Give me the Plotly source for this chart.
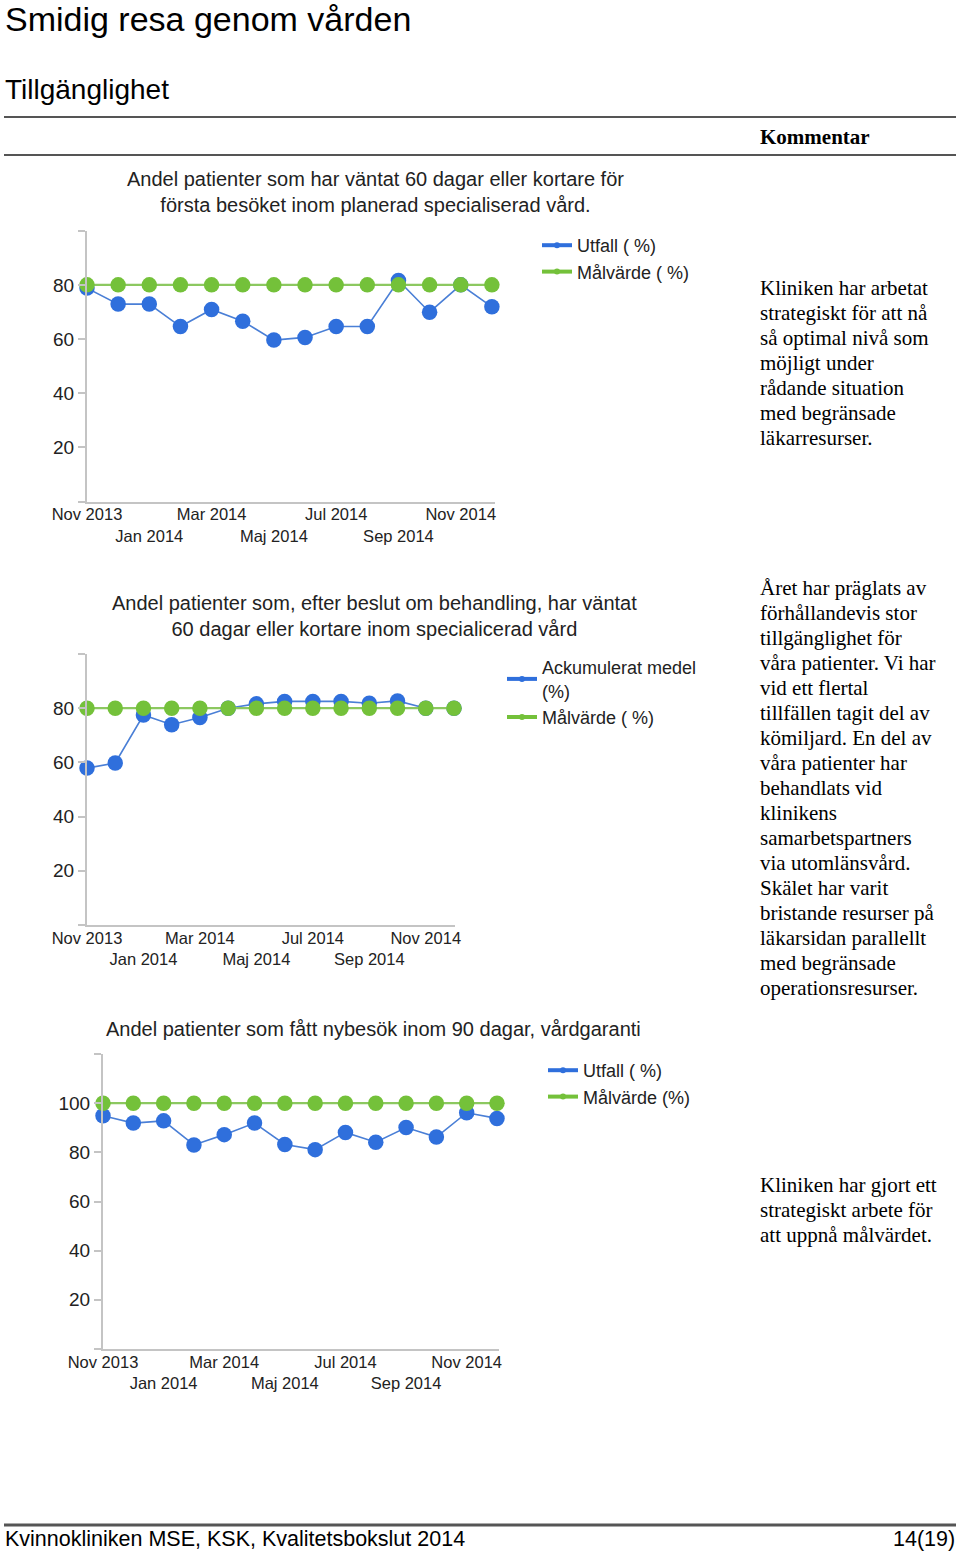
import plotly.graph_objects as go

# ---------------- data ----------------
months = ["Nov 2013", "Dec 2013", "Jan 2014", "Feb 2014", "Mar 2014", "Apr 2014",
          "Maj 2014", "Jun 2014", "Jul 2014", "Aug 2014", "Sep 2014", "Okt 2014",
          "Nov 2014", "Dec 2014"]
tick_months = ["Nov 2013", "Jan 2014", "Mar 2014", "Maj 2014", "Jul 2014", "Sep 2014", "Nov 2014"]

c1_title = "Andel patienter som har väntat 60 dagar eller kortare för<br>första besöket inom planerad specialiserad vård."
c1_utfall = [78.8, 72.9, 72.9, 64.6, 70.9, 66.6, 59.6, 60.6, 64.6, 64.6, 81.6, 69.9, 80.0, 71.9]
c1_mal = [80] * 14
c1_names = ["Utfall ( %)", "Målvärde ( %)"]

c2_title = "Andel patienter som, efter beslut om behandling, har väntat<br>60 dagar eller kortare inom specialicerad vård"
c2_ack = [57.9, 59.8, 77.5, 73.9, 76.6, 80.0, 81.6, 82.5, 82.5, 82.5, 81.8, 82.7, 80.0, 80.0]
c2_mal = [80] * 14
c2_names = ["Ackumulerat medel<br>(%)", "Målvärde ( %)"]

c3_title = "Andel patienter som fått nybesök inom 90 dagar, vårdgaranti"
c3_utfall = [94.9, 91.9, 92.8, 83.0, 87.2, 91.9, 83.2, 81.1, 88.1, 84.1, 90.1, 86.2, 96.1, 93.8]
c3_mal = [100] * 14
c3_names = ["Utfall ( %)", "Målvärde (%)"]

y_ticks_100 = [0, 20, 40, 60, 80, 100]
y_text_100 = ["", "20", "40", "60", "80", ""]
y_ticks_120 = [0, 20, 40, 60, 80, 100, 120]
y_text_120 = ["", "20", "40", "60", "80", "100", ""]

comment1 = ["Kliniken har arbetat", "strategiskt för att nå", "så optimal nivå som",
            "möjligt under", "rådande situation", "med begränsade", "läkarresurser."]
comment2 = ["Året har präglats av", "förhållandevis stor", "tillgänglighet för",
            "våra patienter. Vi har", "vid ett flertal", "tillfällen tagit del av",
            "kömiljard. En del av", "våra patienter har", "behandlats vid", "klinikens",
            "samarbetspartners", "via utomlänsvård.", "Skälet har varit",
            "bristande resurser på", "läkarsidan parallellt", "med begränsade",
            "operationsresurser."]
comment3 = ["Kliniken har gjort ett", "strategiskt arbete för", "att uppnå målvärdet."]

# ---------------- styling ----------------
W, H = 960, 1552
OFF = 0  # body margin removed via post_script
BLUE = "#2f6fdc"
BLUE_LINE = "#4a7fd6"
GREEN = "#74c13a"
GREEN_LINE = "#8cc860"
AX = "#c4c4c4"
TXT = "#222222"
SANS = "Liberation Sans, Arial, sans-serif"
SERIF = "Liberation Serif, Times New Roman, serif"


def px(x):
    return (x - OFF) / W


def py(y):
    return 1 - (y - OFF) / H


tick_text = [m if i % 2 == 0 else "<br>" + m for i, m in enumerate(tick_months)]

fig = go.Figure()

charts = [
    dict(ax="", blue=c1_utfall, mal=c1_mal, names=c1_names, title=c1_title,
         xd=[px(87), px(495)], yd=[py(501.5), py(230.7)], xr=[0, 13.1], yr=[0, 100],
         tv=y_ticks_100, tt=y_text_100, tx=375, ty=191.5, lx=537, ly=227, leg="legend"),
    dict(ax="2", blue=c2_ack, mal=c2_mal, names=c2_names, title=c2_title,
         xd=[px(87), px(455.4)], yd=[py(925), py(654)], xr=[0, 13.05], yr=[0, 100],
         tv=y_ticks_100, tt=y_text_100, tx=374.5, ty=615.5, lx=502, ly=649, leg="legend2"),
    dict(ax="3", blue=c3_utfall, mal=c3_mal, names=c3_names, title=c3_title,
         xd=[px(103), px(498.5)], yd=[py(1349), py(1054)], xr=[0, 13.05], yr=[0, 120],
         tv=y_ticks_120, tt=y_text_120, tx=373.5, ty=1029, lx=543, ly=1052, leg="legend3"),
]

layout_axes = {}
legends = {}
annotations = []
for c in charts:
    xa = "x" + c["ax"]
    ya = "y" + c["ax"]
    # data traces (blue under green)
    fig.add_trace(go.Scatter(x=months, y=c["blue"], xaxis=xa, yaxis=ya, mode="lines+markers",
                             line=dict(color=BLUE_LINE, width=1.6),
                             marker=dict(color=BLUE, size=15.5), showlegend=False,
                             cliponaxis=False))
    fig.add_trace(go.Scatter(x=months, y=c["mal"], xaxis=xa, yaxis=ya, mode="lines+markers",
                             line=dict(color=GREEN_LINE, width=2.2),
                             marker=dict(color=GREEN, size=15.5), showlegend=False,
                             cliponaxis=False))
    # legend entries
    for name, col in zip(c["names"], [BLUE, GREEN]):
        fig.add_trace(go.Scatter(x=[None], y=[None], xaxis=xa, yaxis=ya, mode="lines+markers",
                                 name=name, line=dict(color=col, width=4),
                                 marker=dict(color=col, size=6), legend=c["leg"]))
    layout_axes["xaxis" + c["ax"]] = dict(
        domain=c["xd"], anchor=ya, type="category", range=c["xr"], automargin=False,
        showline=True, linecolor=AX, linewidth=2, showgrid=False, zeroline=False,
        tickmode="array", tickvals=tick_months, ticktext=tick_text, ticks="",
        ticklabelstandoff=-3,
        tickfont=dict(family=SANS, size=16.5, color=TXT), tickangle=0, fixedrange=True)
    layout_axes["yaxis" + c["ax"]] = dict(
        domain=c["yd"], anchor=xa, range=c["yr"], showline=True, linecolor=AX, linewidth=2,
        automargin=False,
        showgrid=False, zeroline=False, tickmode="array", tickvals=c["tv"], ticktext=c["tt"],
        ticks="outside", ticklen=7, tickwidth=1.5, tickcolor=AX, ticklabelstandoff=0,
        tickfont=dict(family=SANS, size=19, color=TXT), fixedrange=True)
    legends[c["leg"]] = dict(x=px(c["lx"]), y=py(c["ly"]), xanchor="left", yanchor="top",
                             font=dict(family=SANS, size=18, color=TXT),
                             bgcolor="rgba(0,0,0,0)", itemwidth=30, tracegroupgap=0,
                             itemclick=False, itemdoubleclick=False)
    annotations.append(dict(text=c["title"], x=px(c["tx"]), y=py(c["ty"]), xanchor="center",
                            yanchor="middle", font=dict(family=SANS, size=20, color=TXT)))

# page text
annotations += [
    dict(text="Smidig resa genom vården", x=px(3), y=py(19), xanchor="left", yanchor="middle",
         font=dict(family=SANS, size=34, color="#000")),
    dict(text="Tillgänglighet", x=px(3), y=py(89), xanchor="left", yanchor="middle",
         font=dict(family=SANS, size=28, color="#000")),
    dict(text="<b>Kommentar</b>", x=px(758), y=py(137), xanchor="left", yanchor="middle",
         font=dict(family=SERIF, size=21, color="#000")),
    dict(text="Kvinnokliniken MSE, KSK, Kvalitetsbokslut 2014", x=px(3), y=py(1539),
         xanchor="left", yanchor="middle", font=dict(family=SANS, size=21.5, color="#000")),
    dict(text="14(19)", x=px(957), y=py(1539), xanchor="right", yanchor="middle",
         font=dict(family=SANS, size=21.5, color="#000")),
]
for lines, y0 in [(comment1, 288), (comment2, 588), (comment3, 1185)]:
    for i, ln in enumerate(lines):
        annotations.append(dict(text=ln, x=px(758), y=py(y0 + 25 * i), xanchor="left",
                                yanchor="middle",
                                font=dict(family=SERIF, size=21, color="#000")))
for a in annotations:
    a.setdefault("xref", "paper")
    a.setdefault("yref", "paper")
    a.setdefault("showarrow", False)

shapes = [
    dict(type="line", xref="paper", yref="paper", x0=px(4), x1=px(956), y0=py(117), y1=py(117),
         line=dict(color="#555", width=2)),
    dict(type="line", xref="paper", yref="paper", x0=px(4), x1=px(956), y0=py(155), y1=py(155),
         line=dict(color="#555", width=2)),
    dict(type="line", xref="paper", yref="paper", x0=px(4), x1=px(956), y0=py(1525), y1=py(1525),
         line=dict(color="#555", width=3)),
]

fig.update_layout(
    width=W, height=H, autosize=False, margin=dict(l=0, r=0, t=0, b=0, pad=0),
    paper_bgcolor="white", plot_bgcolor="white", annotations=annotations, shapes=shapes,
    **layout_axes, **legends,
)

fig.write_html("out.html", config={"displayModeBar": False},
               post_script="document.body.style.margin='0';")
